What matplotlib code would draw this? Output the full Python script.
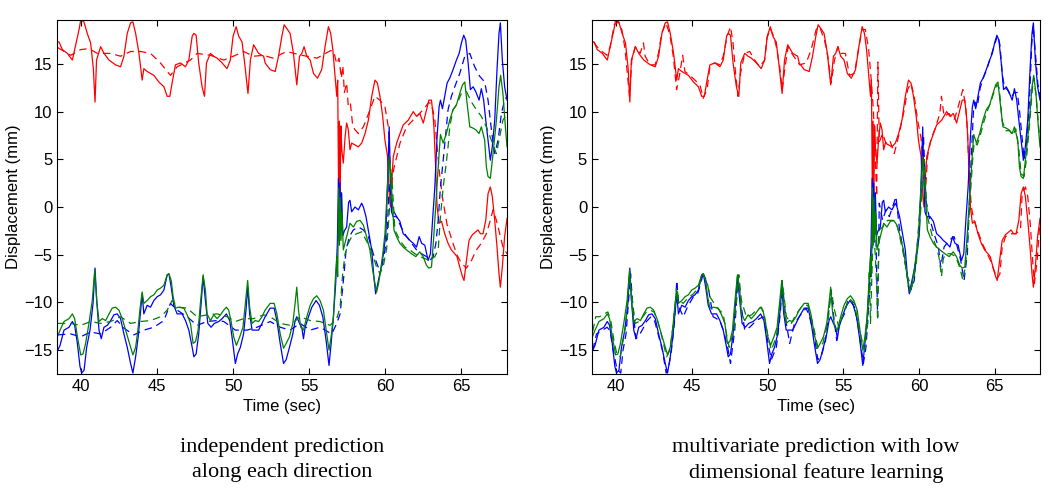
import numpy as np
import matplotlib
matplotlib.use("Agg")
import matplotlib.pyplot as plt

red_true = [
    (38.45, 17.3), (38.53, 17.3), (38.75, 16.5), (39.08, 16.1), (39.41, 15.4), (39.85, 18.6),
    (39.96, 19.6), (40.17, 19.4), (40.39, 18.2), (40.61, 17.2), (40.79, 14.5), (40.9, 11.0),
    (41.0, 15.4), (41.27, 16.8), (41.49, 16.1), (41.82, 15.4), (42.25, 14.9), (42.58, 14.7),
    (42.8, 15.8), (43.02, 18.2), (43.24, 19.3), (43.39, 19.4), (43.57, 18.2), (43.79, 16.1),
    (44.0, 13.3), (44.11, 14.5), (44.33, 14.2), (44.55, 14.0), (44.77, 13.8), (45.1, 13.1),
    (45.43, 12.6), (45.65, 11.6), (45.82, 11.6), (45.97, 13.0), (46.19, 14.9), (46.52, 15.1),
    (46.85, 14.7), (47.07, 15.4), (47.29, 17.9), (47.4, 18.2), (47.55, 18.0), (47.72, 15.1),
    (47.94, 12.6), (48.1, 11.6), (48.23, 15.1), (48.49, 16.1), (48.71, 15.8), (48.93, 15.6),
    (49.26, 15.1), (49.58, 14.5), (49.8, 15.4), (49.98, 17.9), (50.18, 18.9), (50.35, 17.9),
    (50.57, 17.3), (50.74, 15.1), (50.96, 11.9), (51.12, 15.4), (51.33, 17.0), (51.66, 16.1),
    (51.99, 15.8), (52.09, 15.1), (52.42, 14.4), (52.75, 14.2), (52.97, 15.8), (53.19, 17.9),
    (53.34, 19.1), (53.52, 18.7), (53.73, 18.2), (53.95, 16.1), (54.17, 12.8), (54.35, 15.8),
    (54.5, 16.1), (54.65, 16.8), (54.83, 15.8), (55.05, 15.4), (55.27, 14.0), (55.53, 13.5),
    (55.81, 14.4), (56.03, 16.8), (56.25, 18.9), (56.4, 18.2), (56.54, 16.5), (56.69, 13.7),
    (56.8, 11.6), (56.86, 13.3), (56.92, 2.0), (56.97, 9.0), (57.02, 0.0), (57.07, 8.5),
    (57.13, 6.0), (57.23, 4.6), (57.35, 7.4), (57.45, 8.8), (57.56, 8.1), (57.67, 6.0),
    (57.78, 6.7), (58.0, 6.5), (58.22, 6.3), (58.44, 6.7), (58.66, 7.7), (58.88, 9.1),
    (59.1, 11.6), (59.31, 13.3), (59.47, 13.0), (59.64, 11.6), (59.82, 9.5), (59.97, 7.0),
    (60.14, 5.3), (60.26, 1.1), (60.33, 0.0), (60.4, 2.5), (60.52, 5.3), (60.74, 6.7),
    (60.96, 7.7), (61.17, 8.6), (61.5, 9.1), (61.83, 10.0), (62.05, 9.5), (62.27, 9.8),
    (62.49, 8.8), (62.71, 10.2), (62.86, 11.2), (63.03, 11.2), (63.14, 9.5), (63.2, 8.1),
    (63.31, 3.9), (63.4, 0.0), (63.53, -1.7), (63.69, -1.5), (63.9, -2.8), (64.12, -3.8),
    (64.34, -4.5), (64.56, -4.9), (64.71, -5.2), (64.89, -6.3), (65.07, -7.3), (65.17, -7.7),
    (65.33, -5.6), (65.5, -3.5), (65.72, -2.9), (65.94, -2.6), (66.09, -2.4), (66.25, -2.8),
    (66.42, -2.8), (66.6, -1.4), (66.75, 1.4), (66.9, 2.1), (67.03, 1.1), (67.19, -1.4),
    (67.34, -4.2), (67.47, -7.0), (67.56, -8.4), (67.69, -6.3), (67.84, -3.1), (68.0, -1.2),
]

blue_true = [
    (38.45, -15.0), (38.6, -14.5), (38.86, -12.9), (39.19, -12.6), (39.41, -12.0), (39.56, -12.4),
    (39.74, -14.3), (39.91, -16.7), (40.02, -17.4), (40.18, -17.1), (40.35, -14.7), (40.57, -12.9),
    (40.77, -10.1), (40.9, -6.4), (41.01, -9.8), (41.16, -12.9), (41.31, -13.8), (41.49, -12.6),
    (41.71, -12.4), (41.93, -11.9), (42.14, -11.3), (42.36, -11.2), (42.58, -11.7), (42.8, -13.3),
    (43.02, -14.7), (43.24, -16.4), (43.39, -17.4), (43.57, -15.7), (43.74, -13.6), (43.9, -10.8),
    (44.0, -9.1), (44.11, -11.2), (44.33, -10.3), (44.55, -10.5), (44.77, -9.8), (44.99, -9.4),
    (45.21, -9.2), (45.43, -8.7), (45.65, -7.1), (45.76, -7.0), (45.91, -8.4), (46.08, -10.3),
    (46.3, -11.2), (46.63, -11.2), (46.85, -11.9), (47.07, -12.9), (47.29, -14.7), (47.4, -15.7),
    (47.55, -15.4), (47.72, -13.3), (47.88, -10.1), (48.01, -7.3), (48.16, -9.8), (48.32, -12.2),
    (48.53, -12.6), (48.75, -12.2), (49.04, -12.0), (49.26, -11.7), (49.54, -11.2), (49.76, -11.9),
    (49.91, -13.6), (50.13, -16.4), (50.28, -15.4), (50.46, -14.7), (50.67, -13.3), (50.83, -10.8),
    (50.94, -8.4), (51.07, -11.2), (51.23, -12.9), (51.44, -12.9), (51.66, -12.9), (51.88, -12.2),
    (52.09, -11.5), (52.42, -10.6), (52.68, -10.6), (52.86, -11.9), (53.08, -14.3), (53.3, -16.4),
    (53.47, -16.0), (53.69, -14.7), (53.91, -13.3), (54.06, -11.9), (54.17, -11.5), (54.35, -12.2),
    (54.5, -12.6), (54.61, -13.8), (54.72, -12.6), (54.94, -11.5), (55.16, -10.5), (55.44, -9.8),
    (55.66, -10.3), (55.88, -11.5), (56.1, -14.0), (56.29, -16.6), (56.43, -14.3), (56.58, -11.5),
    (56.73, -8.0), (56.84, -3.8), (56.91, 3.0), (56.96, -3.5), (57.01, 2.5), (57.06, -2.0),
    (57.12, 1.5), (57.2, -3.0), (57.3, -2.5), (57.45, -2.1), (57.58, 0.5), (57.67, 0.7),
    (57.78, -0.5), (58.0, 0.0), (58.22, -0.3), (58.44, 0.4), (58.55, 0.0), (58.72, -1.0),
    (58.87, -2.4), (59.1, -4.5), (59.25, -7.5), (59.36, -9.1), (59.5, -8.0), (59.7, -6.5),
    (59.86, -5.0), (60.03, -2.8), (60.15, 3.0), (60.25, 8.4), (60.32, 3.0), (60.4, -0.5),
    (60.51, -1.0), (60.73, -1.0), (60.95, -1.5), (61.17, -2.8), (61.39, -3.1), (61.61, -3.5),
    (61.83, -3.8), (62.05, -4.2), (62.22, -3.1), (62.38, -3.8), (62.59, -4.0), (62.81, -5.6),
    (62.96, -4.9), (63.1, -1.4), (63.25, 2.1), (63.4, 7.4), (63.53, 10.5), (63.62, 11.2),
    (63.75, 10.3), (63.9, 11.6), (64.06, 13.0), (64.23, 13.5), (64.45, 14.4), (64.67, 15.4),
    (64.85, 16.1), (65.0, 17.2), (65.15, 18.0), (65.28, 17.5), (65.44, 15.1), (65.59, 12.3),
    (65.77, 12.6), (65.94, 12.1), (66.16, 11.2), (66.31, 12.4), (66.46, 11.2), (66.6, 9.1),
    (66.75, 7.0), (66.9, 4.9), (67.03, 6.3), (67.19, 9.1), (67.34, 14.4), (67.47, 18.2),
    (67.56, 19.3), (67.69, 15.4), (67.84, 12.6), (68.0, 11.2),
]

green_true = [
    (38.45, -13.5), (38.6, -12.9), (38.86, -12.0), (39.19, -11.7), (39.41, -11.2), (39.56, -11.7),
    (39.74, -13.6), (39.96, -15.5), (40.11, -15.4), (40.28, -14.3), (40.5, -12.2), (40.72, -9.8),
    (40.88, -6.6), (41.01, -9.8), (41.16, -12.0), (41.38, -11.7), (41.6, -11.9), (41.82, -11.2),
    (42.03, -10.6), (42.25, -10.5), (42.47, -10.8), (42.69, -11.7), (42.91, -12.9), (43.17, -14.3),
    (43.39, -15.5), (43.57, -14.7), (43.72, -12.9), (43.85, -10.8), (44.0, -8.9), (44.11, -10.1),
    (44.33, -9.8), (44.55, -9.4), (44.77, -9.2), (44.99, -8.7), (45.21, -8.5), (45.43, -8.2),
    (45.65, -7.1), (45.76, -7.0), (45.91, -7.7), (46.04, -9.4), (46.19, -10.6), (46.41, -10.5),
    (46.74, -10.6), (46.96, -11.3), (47.18, -12.2), (47.35, -14.3), (47.51, -14.1), (47.68, -12.9),
    (47.83, -10.1), (48.01, -7.1), (48.16, -8.7), (48.27, -11.2), (48.49, -11.9), (48.71, -11.3),
    (48.93, -11.7), (49.15, -11.3), (49.37, -10.8), (49.54, -10.5), (49.69, -10.8), (49.85, -12.0),
    (50.02, -13.6), (50.2, -14.5), (50.42, -13.6), (50.63, -12.6), (50.79, -10.1), (50.94, -7.7),
    (51.07, -10.5), (51.23, -12.2), (51.44, -11.9), (51.66, -12.0), (51.88, -11.5), (52.09, -10.8),
    (52.42, -10.1), (52.68, -10.1), (52.86, -11.2), (53.08, -13.3), (53.3, -14.8), (53.47, -14.3),
    (53.69, -13.6), (53.91, -12.2), (54.06, -10.1), (54.17, -8.4), (54.28, -10.8), (54.43, -12.6),
    (54.61, -12.9), (54.83, -11.5), (55.05, -10.3), (55.27, -9.6), (55.48, -9.3), (55.7, -9.8),
    (55.92, -10.8), (56.14, -13.3), (56.29, -15.0), (56.43, -13.6), (56.58, -11.5), (56.69, -8.0),
    (56.8, -5.2), (56.86, -7.3), (56.93, 2.0), (56.98, -4.0), (57.03, 1.0), (57.08, -3.5),
    (57.14, -0.5), (57.23, -4.5), (57.45, -3.1), (57.67, -1.7), (57.89, -2.1), (58.11, -1.5),
    (58.33, -1.4), (58.55, -1.9), (58.76, -3.1), (58.98, -4.5), (59.16, -6.6), (59.31, -8.0),
    (59.42, -8.9), (59.55, -8.0), (59.7, -6.5), (59.82, -5.0), (59.97, -2.8), (60.12, 1.8),
    (60.25, 5.3), (60.41, 1.8), (60.56, -2.4), (60.73, -3.1), (60.95, -3.8), (61.17, -4.2),
    (61.39, -4.5), (61.72, -4.9), (62.0, -5.2), (62.26, -4.7), (62.48, -5.2), (62.7, -6.1),
    (62.85, -6.4), (63.03, -6.3), (63.18, -3.1), (63.36, 1.4), (63.53, 5.6), (63.62, 7.6),
    (63.8, 6.7), (64.01, 7.7), (64.23, 9.1), (64.45, 10.2), (64.67, 10.7), (64.89, 11.9),
    (65.07, 12.8), (65.22, 13.1), (65.37, 10.9), (65.55, 8.4), (65.72, 8.3), (65.94, 8.1),
    (66.16, 7.7), (66.31, 8.4), (66.53, 7.0), (66.64, 4.2), (66.75, 3.2), (66.9, 3.0),
    (67.08, 5.6), (67.3, 9.1), (67.47, 12.6), (67.58, 13.8), (67.73, 11.9), (67.89, 8.4),
    (68.0, 6.3),
]

# left panel: independent prediction (dashed)
red_indep = [
    (38.45, 16.7), (39.3, 15.9), (39.96, 16.5), (40.5, 16.6), (41.05, 16.1), (41.93, 16.1),
    (42.58, 15.8), (43.24, 16.3), (43.9, 16.3), (44.55, 16.1), (45.2, 15.1), (45.86, 13.8),
    (46.3, 14.7), (47.18, 15.4), (47.61, 16.1), (48.49, 15.9), (49.37, 15.4), (50.0, 15.8),
    (50.67, 16.3), (51.33, 15.8), (51.99, 15.9), (52.6, 15.6), (53.5, 16.3), (54.5, 15.9),
    (55.5, 15.6), (56.4, 16.4), (56.6, 16.3), (56.8, 15.0), (56.95, 15.6), (57.1, 13.5),
    (57.2, 14.8), (57.3, 12.0), (57.45, 13.0), (57.56, 10.5), (57.7, 10.8), (57.85, 8.5),
    (58.0, 8.1), (58.22, 7.7), (58.55, 8.4), (58.99, 10.2), (59.31, 11.6), (59.64, 11.2),
    (59.97, 10.5), (60.19, 8.4), (60.3, 5.0), (60.42, 2.5), (60.55, 4.0), (60.96, 6.7),
    (61.39, 8.4), (62.05, 9.5), (62.49, 10.2), (62.82, 10.9), (63.03, 10.9), (63.25, 9.1),
    (63.4, 6.3), (63.58, 3.2), (63.8, 0.5), (64.05, -1.8), (64.4, -3.6), (64.7, -5.0),
    (65.0, -5.9), (65.33, -6.4), (65.66, -5.6), (65.98, -4.5), (66.31, -3.8), (66.64, -2.8),
    (66.9, -1.4), (67.08, -0.3), (67.3, -1.4), (67.52, -2.8), (67.73, -4.2), (68.0, -4.9),
]

blue_indep = [
    (38.45, -13.4), (39.3, -13.3), (39.96, -13.6), (40.61, -13.1), (41.27, -13.3), (41.93, -12.6),
    (42.36, -11.9), (42.8, -12.7), (43.46, -13.4), (44.11, -12.9), (44.77, -12.6), (45.43, -11.9),
    (45.86, -10.1), (46.3, -10.8), (46.96, -11.5), (47.61, -12.4), (48.27, -12.0), (48.93, -11.9),
    (49.37, -12.0), (50.13, -12.9), (50.9, -12.9), (51.55, -12.6), (52.42, -12.0), (53.08, -12.6),
    (53.73, -12.9), (54.39, -12.2), (55.05, -12.9), (55.7, -12.6), (56.47, -13.3), (56.8, -12.2),
    (57.02, -11.2), (57.13, -9.4), (57.28, -7.0), (57.41, -4.5), (57.63, -3.1), (57.89, -2.4),
    (58.22, -2.1), (58.55, -2.4), (58.88, -3.1), (59.2, -4.9), (59.53, -6.3), (59.75, -6.4),
    (59.97, -4.5), (60.12, -2.8), (60.25, 2.5), (60.38, 1.0), (60.51, -0.3), (60.73, -1.0),
    (61.06, -2.2), (61.39, -3.1), (61.72, -3.8), (62.05, -4.5), (62.38, -4.9), (62.7, -5.2),
    (62.92, -5.6), (63.14, -5.2), (63.32, -3.8), (63.47, -1.4), (63.62, 2.1), (63.8, 4.9),
    (63.97, 7.7), (64.12, 10.2), (64.34, 11.6), (64.56, 12.6), (64.89, 14.0), (65.22, 15.8),
    (65.55, 16.1), (65.87, 14.7), (66.2, 13.7), (66.53, 13.1), (66.75, 11.2), (66.97, 8.1),
    (67.19, 5.6), (67.41, 7.0), (67.63, 9.8), (67.84, 11.2), (68.0, 11.6),
]

green_indep = [
    (38.45, -12.2), (39.3, -12.2), (39.96, -12.4), (40.61, -12.0), (41.27, -12.2), (41.93, -12.0),
    (42.58, -11.5), (43.24, -12.2), (43.9, -12.0), (44.55, -11.9), (45.21, -11.5), (45.65, -10.8),
    (45.97, -9.8), (46.41, -10.5), (46.96, -10.6), (47.61, -11.5), (48.27, -11.3), (48.93, -11.2),
    (49.59, -11.5), (50.13, -12.0), (50.67, -11.7), (51.33, -11.7), (51.99, -11.3), (52.42, -11.5),
    (53.08, -12.2), (53.73, -12.4), (54.39, -11.5), (55.05, -11.9), (55.7, -12.0), (56.36, -12.4),
    (56.8, -11.7), (57.02, -10.5), (57.19, -7.0), (57.35, -4.9), (57.56, -3.8), (57.78, -3.1),
    (58.11, -2.8), (58.44, -2.6), (58.77, -3.6), (59.1, -4.7), (59.42, -6.3), (59.64, -7.0),
    (59.86, -6.2), (60.08, -4.4), (60.3, 0.5), (60.41, 3.5), (60.52, 0.5), (60.62, -2.4),
    (60.95, -3.5), (61.28, -4.2), (61.61, -4.5), (61.94, -4.9), (62.26, -5.2), (62.59, -5.4),
    (62.92, -5.6), (63.25, -5.2), (63.47, -4.5), (63.62, -1.0), (63.8, 2.1), (63.97, 4.2),
    (64.12, 6.3), (64.23, 8.4), (64.45, 10.2), (64.67, 10.7), (65.0, 11.9), (65.33, 12.1),
    (65.66, 11.0), (65.98, 10.2), (66.31, 9.5), (66.64, 8.4), (66.97, 7.0), (67.3, 5.6),
    (67.52, 7.4), (67.73, 9.1), (68.0, 9.8),
]

# right panel: multivariate prediction (dashed)
red_multi = [
    (38.51, 17.3), (38.73, 16.8), (39.06, 16.3), (39.39, 15.9), (39.6, 16.8), (39.87, 19.1),
    (40.15, 19.4), (40.37, 18.6), (40.59, 16.5), (40.75, 13.7), (40.88, 11.6), (41.03, 15.4),
    (41.25, 16.8), (41.58, 16.1), (41.8, 17.2), (41.91, 15.8), (42.24, 14.9), (42.57, 14.9),
    (42.79, 16.1), (43.0, 18.2), (43.29, 19.3), (43.55, 18.0), (43.77, 15.8), (43.99, 12.3),
    (44.17, 13.7), (44.39, 15.9), (44.54, 14.2), (44.87, 13.8), (45.2, 13.3), (45.53, 12.8),
    (45.75, 11.4), (46.01, 12.4), (46.19, 14.7), (46.52, 15.1), (46.85, 14.9), (47.07, 15.8),
    (47.33, 17.9), (47.55, 18.9), (47.72, 17.2), (47.9, 13.7), (48.05, 11.6), (48.21, 14.0),
    (48.49, 16.1), (48.82, 16.3), (49.15, 15.4), (49.48, 14.7), (49.81, 15.4), (49.96, 17.7),
    (50.18, 18.7), (50.4, 17.9), (50.58, 16.8), (50.8, 14.7), (50.97, 12.3), (51.13, 14.4),
    (51.35, 16.8), (51.68, 15.9), (52.12, 14.9), (52.55, 15.1), (52.88, 16.5), (53.21, 18.6),
    (53.43, 18.9), (53.76, 17.5), (53.98, 15.8), (54.2, 13.0), (54.42, 15.4), (54.64, 16.8),
    (54.86, 16.1), (55.14, 16.1), (55.41, 13.8), (55.74, 14.0), (55.96, 16.1), (56.24, 18.6),
    (56.46, 18.6), (56.68, 16.5), (56.83, 13.7), (56.99, 10.2), (57.12, 4.9), (57.21, 1.1),
    (57.29, 15.2), (57.38, 6.8), (57.6, 7.7), (57.82, 6.7), (58.08, 7.0), (58.37, 5.6),
    (58.7, 7.7), (59.03, 10.2), (59.25, 12.3), (59.47, 13.0), (59.69, 11.6), (59.91, 9.1),
    (60.13, 7.3), (60.28, 4.9), (60.41, 1.1), (60.57, 5.3), (60.78, 7.0), (61.11, 8.4),
    (61.38, 9.8), (61.49, 11.6), (61.66, 9.5), (61.99, 9.8), (62.32, 9.1), (62.54, 10.2),
    (62.9, 12.3), (63.09, 10.5), (63.2, 8.1), (63.31, 3.9), (63.46, 0.0), (63.64, -1.4),
    (63.86, -2.4), (64.18, -3.8), (64.51, -4.9), (64.73, -5.6), (64.95, -6.6), (65.17, -7.5),
    (65.35, -7.0), (65.5, -4.2), (65.72, -3.1), (66.05, -2.8), (66.38, -2.8), (66.71, -2.4),
    (66.82, 1.4), (67.04, 2.1), (67.19, 1.1), (67.37, -2.1), (67.54, -6.3), (67.63, -8.0),
    (67.81, -5.6), (68.0, -1.4),
]

blue_multi = [
    (38.45, -15.0), (38.7, -13.3), (39.0, -13.0), (39.4, -12.6), (39.6, -13.0), (39.8, -15.0),
    (40.05, -17.0), (40.3, -17.4), (40.45, -15.0), (40.65, -13.3), (40.85, -9.0), (40.95, -7.0),
    (41.1, -10.5), (41.3, -13.8), (41.5, -13.5), (41.75, -12.8), (42.0, -12.0), (42.3, -11.5),
    (42.55, -12.0), (42.8, -13.5), (43.05, -15.0), (43.3, -17.4), (43.45, -17.0), (43.65, -15.0),
    (43.85, -12.0), (44.0, -7.7), (44.15, -10.5), (44.43, -11.5), (44.7, -10.5), (45.1, -9.4),
    (45.4, -9.0), (45.75, -7.0), (46.08, -8.4), (46.4, -11.5), (46.85, -11.9), (47.1, -13.0),
    (47.4, -15.0), (47.55, -16.4), (47.83, -12.9), (48.05, -7.3), (48.27, -10.5), (48.49, -12.9),
    (48.82, -12.6), (49.26, -11.9), (49.7, -11.5), (49.85, -12.5), (50.03, -14.3), (50.25, -16.0),
    (50.58, -14.7), (50.84, -11.2), (50.97, -8.0), (51.24, -12.2), (51.46, -14.3), (51.78, -12.2),
    (52.23, -11.2), (52.55, -10.6), (52.77, -11.5), (53.1, -13.6), (53.32, -16.0), (53.54, -15.7),
    (53.83, -14.0), (54.05, -10.8), (54.2, -8.7), (54.35, -11.2), (54.57, -14.0), (54.75, -12.2),
    (55.08, -11.2), (55.3, -9.8), (55.52, -9.8), (55.74, -10.5), (55.96, -12.2), (56.18, -14.7),
    (56.33, -16.4), (56.5, -14.7), (56.68, -10.5), (56.83, -6.6), (56.99, 1.8), (57.12, -0.3),
    (57.2, -6.0), (57.27, -11.5), (57.33, -5.0), (57.38, 0.4), (57.6, -1.4), (57.82, -0.3),
    (58.04, -1.0), (58.26, 0.0), (58.48, 1.1), (58.7, -2.1), (58.92, -4.2), (59.14, -6.3),
    (59.31, -8.4), (59.47, -8.7), (59.69, -7.7), (59.91, -3.5), (60.13, 1.1), (60.3, 7.5),
    (60.46, 0.7), (60.67, -1.0), (61.0, -2.8), (61.29, -4.2), (61.44, -6.3), (61.66, -4.2),
    (61.99, -3.5), (62.32, -3.1), (62.54, -4.2), (62.76, -5.6), (62.98, -7.7), (63.2, -4.9),
    (63.31, -0.3), (63.45, 5.0), (63.6, 10.0), (63.7, 11.0), (63.85, 10.5), (64.05, 12.5),
    (64.25, 13.5), (64.5, 14.5), (64.75, 15.8), (65.0, 17.0), (65.2, 18.0), (65.35, 17.0),
    (65.5, 14.0), (65.65, 12.5), (65.85, 12.3), (66.1, 11.5), (66.3, 12.0), (66.5, 12.0),
    (66.65, 10.0), (66.8, 7.5), (66.95, 5.0), (67.1, 6.5), (67.3, 11.0), (67.45, 17.0),
    (67.55, 19.0), (67.7, 16.0), (67.85, 13.0), (68.0, 11.5),
]

green_multi = [
    (38.45, -13.0), (38.65, -11.5), (38.9, -11.5), (39.2, -11.2), (39.45, -11.0), (39.65, -12.0),
    (39.85, -14.0), (40.05, -15.5), (40.26, -15.7), (40.45, -14.0), (40.65, -12.0), (40.86, -7.3),
    (41.05, -9.5), (41.25, -12.2), (41.5, -12.0), (41.75, -11.5), (42.0, -11.0), (42.24, -10.8),
    (42.5, -11.0), (42.75, -12.0), (43.0, -13.5), (43.33, -15.7), (43.55, -15.0), (43.75, -12.5),
    (43.99, -8.4), (44.15, -9.8), (44.43, -10.1), (44.75, -9.5), (45.1, -9.1), (45.4, -8.5),
    (45.75, -7.0), (46.0, -7.8), (46.19, -9.4), (46.63, -10.5), (47.07, -11.2), (47.25, -13.0),
    (47.46, -14.7), (47.77, -12.9), (48.1, -7.1), (48.27, -9.8), (48.6, -11.5), (48.95, -11.3),
    (49.26, -10.8), (49.59, -10.5), (49.8, -11.5), (50.03, -13.6), (50.25, -15.0), (50.58, -13.6),
    (50.8, -10.5), (50.97, -7.7), (51.24, -11.5), (51.57, -12.2), (51.9, -11.2), (52.33, -10.3),
    (52.66, -10.3), (52.99, -12.2), (53.32, -14.7), (53.65, -14.3), (53.98, -12.2), (54.2, -8.7),
    (54.42, -10.8), (54.71, -12.6), (55.08, -10.8), (55.41, -9.6), (55.74, -10.1), (56.07, -12.9),
    (56.4, -15.0), (56.61, -12.2), (56.72, -6.6), (56.8, -12.2), (56.99, -1.7), (57.12, -5.2),
    (57.2, -8.0), (57.27, -11.9), (57.33, -6.0), (57.38, -2.4), (57.6, -2.1), (57.93, -1.4),
    (58.26, -1.4), (58.59, -2.1), (58.92, -4.5), (59.25, -7.3), (59.53, -8.4), (59.8, -6.3),
    (60.02, -2.4), (60.2, 1.5), (60.35, 5.0), (60.45, 2.0), (60.56, -1.0), (60.89, -3.1),
    (61.22, -4.5), (61.35, -5.5), (61.49, -7.3), (61.6, -5.5), (61.73, -4.9), (62.1, -4.9),
    (62.43, -5.2), (62.69, -6.3), (62.91, -7.7), (63.09, -5.9), (63.26, -2.4), (63.42, 1.8),
    (63.55, 5.0), (63.65, 6.8), (63.85, 6.5), (64.05, 7.5), (64.3, 9.0), (64.5, 10.0),
    (64.75, 11.0), (64.95, 12.0), (65.15, 12.8), (65.3, 12.5), (65.5, 9.0), (65.75, 8.0),
    (66.0, 8.0), (66.2, 7.5), (66.4, 8.2), (66.6, 6.0), (66.75, 3.5), (66.95, 3.2),
    (67.1, 5.0), (67.3, 8.5), (67.5, 12.5), (67.6, 13.5), (67.75, 11.5), (67.9, 8.5),
    (68.0, 6.8),
]

x_ticks = [40, 45, 50, 55, 60, 65]
y_ticks = [-15, -10, -5, 0, 5, 10, 15]
captions = ["independent prediction\nalong each direction",
            "multivariate prediction with low\ndimensional feature learning"]

plt.rcParams['font.family'] = ['Liberation Sans', 'DejaVu Sans']

RED, BLUE, GREEN = '#ff0000', '#0000ff', '#008000'
LW = 0.9
DASH = (0, (6, 4))


def draw(ax, preds):
    for (series, color), pred in zip([(red_true, RED), (blue_true, BLUE), (green_true, GREEN)], preds):
        t, v = np.array(series).T
        ax.plot(t, v, color=color, lw=LW)
        t, v = np.array(pred).T
        ax.plot(t, v, color=color, lw=LW, linestyle=DASH)
    ax.set_xlim(38.4, 68)
    ax.set_ylim(-17.5, 19.6)
    ax.set_xticks(x_ticks)
    ax.set_yticks(y_ticks)
    ax.tick_params(direction='in', top=True, right=True, length=4, labelsize=12, width=0.8)
    for s in ax.spines.values():
        s.set_linewidth(0.8)
    ax.set_xlabel('Time (sec)', fontsize=12, labelpad=4)
    ax.set_ylabel('Displacement (mm)', fontsize=12, labelpad=2)


fig = plt.figure(figsize=(10.5, 4.91), dpi=100)
ax1 = fig.add_axes([0.0543, 0.2383, 0.4286, 0.7210])
ax2 = fig.add_axes([0.5638, 0.2383, 0.4267, 0.7210])
draw(ax1, [red_indep, blue_indep, green_indep])
draw(ax2, [red_multi, blue_multi, green_multi])

for ax, cap in zip([ax1, ax2], captions):
    box = ax.get_position()
    fig.text((box.x0 + box.x1) / 2, 0.063, cap, ha='center', va='center',
             family='Liberation Serif', fontsize=16, linespacing=1.4)

fig.savefig('out.png', dpi=100)
